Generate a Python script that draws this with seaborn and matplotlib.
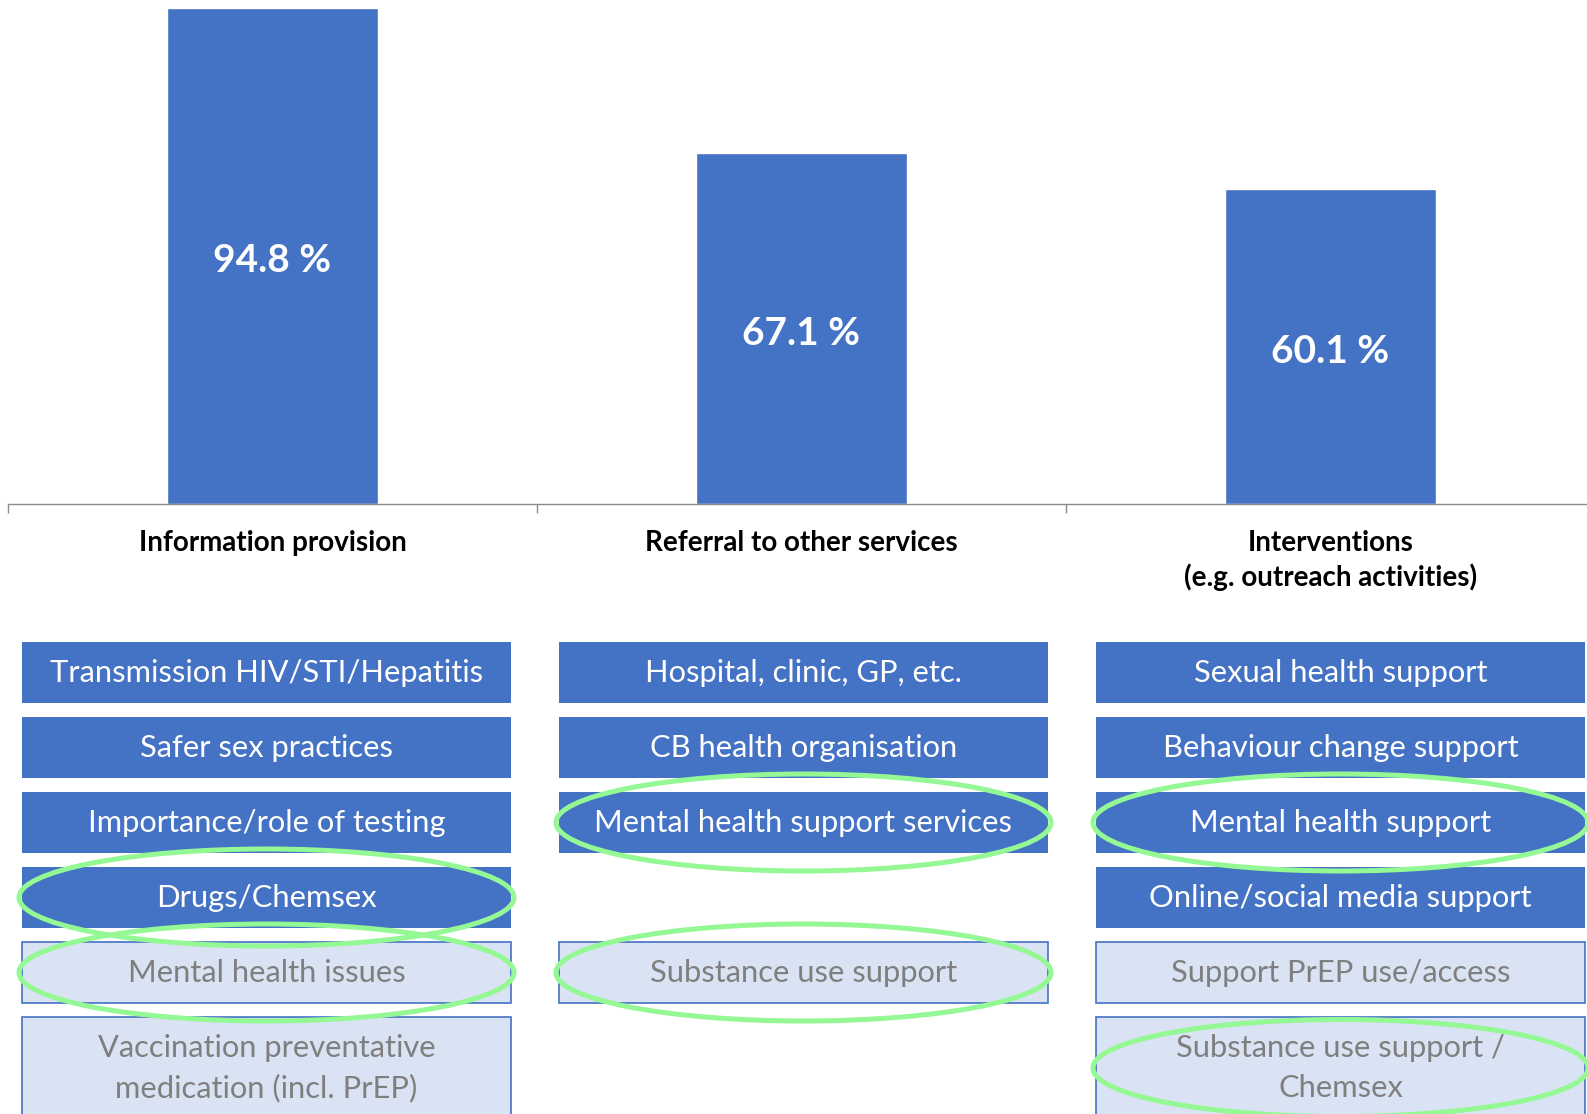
import matplotlib
matplotlib.use("Agg")
import matplotlib.pyplot as plt
from matplotlib.patches import Rectangle, Ellipse
import seaborn as sns

# bar chart values
categories = ['Information provision', 'Referral to other services',
              'Interventions\n(e.g. outreach activities)']
percent = [94.8, 67.1, 60.1]

# boxes under each bar (None = empty slot)
info_items = ['Transmission HIV/STI/Hepatitis', 'Safer sex practices',
              'Importance/role of testing', 'Drugs/Chemsex',
              'Mental health issues', 'Vaccination preventative\nmedication (incl. PrEP)']
info_main = [True, True, True, True, False, False]
info_circled = [False, False, False, True, True, False]

referral_items = ['Hospital, clinic, GP, etc.', 'CB health organisation',
                  'Mental health support services', None, 'Substance use support']
referral_main = [True, True, True, None, False]
referral_circled = [False, False, True, False, True]

intervention_items = ['Sexual health support', 'Behaviour change support',
                      'Mental health support', 'Online/social media support',
                      'Support PrEP use/access', 'Substance use support /\nChemsex']
intervention_main = [True, True, True, True, False, False]
intervention_circled = [False, False, True, False, False, True]

BLUE = '#4472C4'
LIGHT = '#DAE3F3'
GREY_TXT = '#7F7F7F'
GREEN = '#94F894'


def run_chart():
    sns.set_style("white")
    plt.rcParams['font.family'] = ['Lato', 'DejaVu Sans']

    W, H = 1587, 1114
    fig = plt.figure(figsize=(W / 100, H / 100), dpi=100)

    # ---- bars ----
    ax = fig.add_axes([8 / W, 1 - 504 / H, 1587 / W, 504 / H])
    sns.barplot(x=categories, y=percent, color=BLUE, saturation=1,
                width=0.4, ax=ax)
    ax.set_ylim(0, 96.3)
    ax.set_xlim(-0.5, 2.5)
    vals = ax.bar_label(ax.containers[0], labels=[f'{v:.1f} %' for v in percent],
                        label_type='center', color='white', fontsize=28,
                        fontweight='bold')
    for t in vals:
        t.xyann = (0, -3.5)
    for s in ['left', 'top', 'right']:
        ax.spines[s].set_visible(False)
    ax.spines['bottom'].set_color('#8C8C8C')
    ax.spines['bottom'].set_linewidth(1.0)
    ax.set_yticks([])
    ax.set_xticks([-0.5, 0.5, 1.5, 2.5], minor=True)
    ax.tick_params(axis='x', which='minor', bottom=True, length=6.5,
                   color='#8C8C8C', width=1.0)
    ax.tick_params(axis='x', which='major', length=0, pad=19)
    for lbl in ax.get_xticklabels():
        lbl.set_fontweight('bold')
        lbl.set_fontsize(20)
        lbl.set_color('black')
        lbl.set_linespacing(1.33)
    ax.set_xlabel('')
    ax.set_ylabel('')

    # ---- boxes ----
    bx = fig.add_axes([-2 / W, 1 - (635 + 6.5 * 75) / H, 1611 / W, 6.5 * 75 / H])
    bx.set_xlim(-0.5, 2.5)
    bx.set_ylim(6.0, -0.5)
    bx.axis('off')

    columns = [(info_items, info_main, info_circled),
               (referral_items, referral_main, referral_circled),
               (intervention_items, intervention_main, intervention_circled)]
    half_w = 0.456
    box_h = 61 / 75
    for ci, (items, main, circled) in enumerate(columns):
        for ri, txt in enumerate(items):
            if txt is None:
                continue
            n_lines = txt.count('\n') + 1
            h = box_h if n_lines == 1 else 102 / 75
            top = ri - box_h / 2
            yc = top + h / 2
            if main[ri]:
                bx.add_patch(Rectangle((ci - half_w, top), 2 * half_w, h,
                                       facecolor=BLUE, edgecolor='none', zorder=1))
                col = 'white'
            else:
                bx.add_patch(Rectangle((ci - half_w, top), 2 * half_w, h,
                                       facecolor=LIGHT, edgecolor=BLUE,
                                       linewidth=1.2, zorder=1))
                col = GREY_TXT
            bx.text(ci, yc, txt, ha='center', va='center', color=col,
                    fontsize=22.2, linespacing=1.5, zorder=2)
            if circled[ri]:
                bx.add_patch(Ellipse((ci, yc), 495 / 537, 97 / 75, fill=False,
                                     edgecolor=GREEN, linewidth=3.6, zorder=3))

    fig.savefig('out.png', dpi=100)


if __name__ == "__main__":
    run_chart()
